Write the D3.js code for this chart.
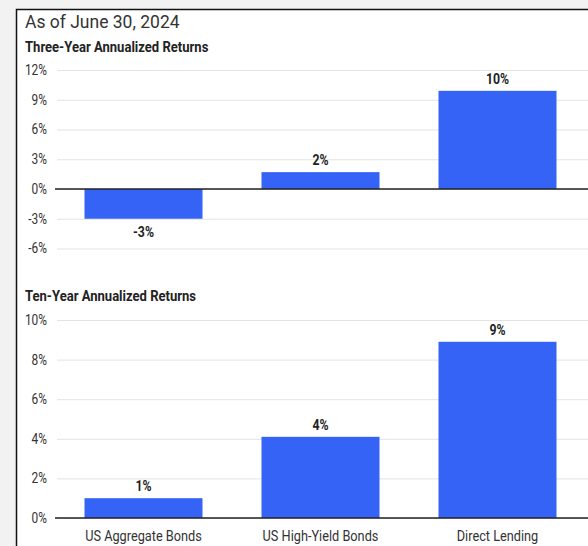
<!DOCTYPE html>
<html>
<head>
<meta charset="utf-8">
<script src="https://cdn.jsdelivr.net/npm/d3@7"></script>
<style>
  body { margin: 0; background: #f2f2f2; }
  .tick text { font-family: "Roboto", sans-serif; }
</style>
</head>
<body>
<div id="grafico"></div>
<script>
// data
var categories = ["US Aggregate Bonds", "US High-Yield Bonds", "Direct Lending"];
var threeYear = [-3.0, 1.7, 9.9];
var threeYearLabels = ["-3%", "2%", "10%"];
var tenYear = [1.0, 4.1, 8.9];
var tenYearLabels = ["1%", "4%", "9%"];
var threeYearTicks = [-6, -3, 0, 3, 6, 9, 12];
var tenYearTicks = [0, 2, 4, 6, 8, 10];

var W = 588, H = 546;
var blue = "#3563f6";

var svg = d3.select("#grafico").append("svg")
    .attr("width", W)
    .attr("height", H);

svg.append("rect").attr("width", W).attr("height", H).attr("fill", "#f2f2f2");

// white card with black border, running off the right and bottom edges
svg.append("rect")
    .attr("x", 16.5).attr("y", 9.5)
    .attr("width", W + 20).attr("height", H + 20)
    .attr("fill", "#fff")
    .attr("stroke", "#111")
    .attr("stroke-width", 1.5);

svg.append("text")
    .attr("x", 25).attr("y", 28)
    .style("font-family", "Roboto, sans-serif")
    .style("font-size", "17.5px")
    .style("fill", "#333")
    .text("As of June 30, 2024");

// no condensed face installed, so squeeze Roboto sideways
function squeeze(px, py, sx) {
  return "translate(" + px + "," + py + ") scale(" + sx + ",1)";
}

var x = d3.scaleBand()
    .domain(categories)
    .range([55, 586])
    .paddingInner(1 / 3)
    .paddingOuter(1 / 6);

function panel(title, titleY, values, labels, ticks, yDomain, yRange, showCats) {
  var y = d3.scaleLinear().domain(yDomain).range(yRange);
  var g = svg.append("g");

  g.append("text")
      .attr("transform", squeeze(25, titleY, 0.9))
      .style("font-family", "Roboto, sans-serif")
      .style("font-weight", "bold")
      .style("font-size", "14.5px")
      .style("fill", "#222")
      .text(title);

  // gridlines
  g.append("g")
      .attr("class", "grid")
      .attr("transform", "translate(57,0)")
      .call(d3.axisLeft(y).tickValues(ticks).tickSize(-(W - 57)).tickFormat(""))
      .call(function(s) {
        s.select(".domain").remove();
        s.selectAll("line").attr("stroke", "#e3e3e3");
      });

  // tick labels
  g.append("g")
      .attr("transform", "translate(47,0)")
      .call(d3.axisLeft(y).tickValues(ticks).tickSize(0).tickPadding(0)
            .tickFormat(function(d) { return d + "%"; }))
      .call(function(s) {
        s.select(".domain").remove();
        s.selectAll("text")
          .attr("x", 0)
          .attr("transform", "scale(0.85,1)")
          .style("font-size", "14px")
          .style("fill", "#333");
      });

  g.selectAll("rect.bar")
      .data(values)
      .enter().append("rect")
      .attr("class", "bar")
      .attr("x", function(d, i) { return x(categories[i]); })
      .attr("width", x.bandwidth())
      .attr("y", function(d) { return y(Math.max(0, d)); })
      .attr("height", function(d) { return Math.abs(y(d) - y(0)); })
      .attr("fill", blue);

  g.selectAll("text.val")
      .data(values)
      .enter().append("text")
      .attr("class", "val")
      .attr("transform", function(d, i) {
        var cx = x(categories[i]) + x.bandwidth() / 2;
        var cy = d >= 0 ? y(d) - 7 : y(d) + 18;
        return squeeze(cx, cy, 0.82);
      })
      .attr("text-anchor", "middle")
      .style("font-family", "Roboto, sans-serif")
      .style("font-weight", "bold")
      .style("font-size", "15px")
      .style("fill", "#222")
      .text(function(d, i) { return labels[i]; });

  // zero line
  g.append("line")
      .attr("x1", 55).attr("x2", W)
      .attr("y1", y(0)).attr("y2", y(0))
      .attr("stroke", "#222")
      .attr("stroke-width", 1.5);

  if (showCats) {
    g.append("g")
        .attr("transform", "translate(0," + y(0) + ")")
        .call(d3.axisBottom(x).tickSize(0).tickPadding(12))
        .call(function(s) {
          s.select(".domain").remove();
          s.selectAll("text")
            .attr("transform", "scale(0.85,1)")
            .style("font-size", "15px")
            .style("fill", "#333");
        });
  }
}

panel("Three-Year Annualized Returns", 52, threeYear, threeYearLabels,
      threeYearTicks, [-6, 12], [248.5, 70], false);
panel("Ten-Year Annualized Returns", 301, tenYear, tenYearLabels,
      tenYearTicks, [0, 10], [518, 320], true);
</script>
</body>
</html>
